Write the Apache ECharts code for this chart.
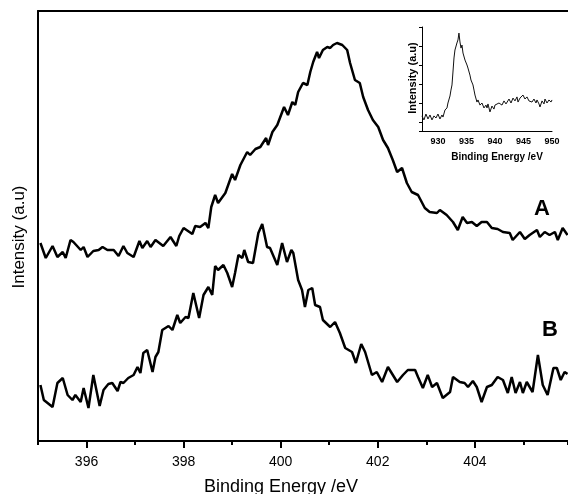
<!DOCTYPE html>
<html><head><meta charset="utf-8">
<script src="https://cdn.jsdelivr.net/npm/echarts@6/dist/echarts.min.js"></script>
<style>html,body{margin:0;padding:0;background:#fff}#c{width:568px;height:494px}</style>
</head><body><div id="c"></div>
<script>
// Main plot: curve A (upper)
const energyA = [395.05,395.16,395.30,395.40,395.51,395.57,395.67,395.73,395.88,395.94,396.02,396.14,396.25,396.33,396.43,396.56,396.66,396.76,396.84,396.97,397.09,397.15,397.25,397.32,397.42,397.58,397.73,397.85,397.91,398.00,398.18,398.24,398.34,398.45,398.51,398.57,398.65,398.71,398.86,399.00,399.06,399.17,399.31,399.37,399.48,399.58,399.70,399.74,399.83,399.93,399.97,400.07,400.15,400.24,400.30,400.36,400.46,400.55,400.61,
400.67,400.75,400.79,400.87,400.96,401.02,401.08,401.16,401.27,401.37,401.43,401.53,401.63,401.70,401.80,401.90,402.01,402.11,402.21,402.31,402.40,402.50,402.60,402.70,402.83,402.97,403.07,403.22,403.28,403.42,403.55,403.65,403.75,403.84,403.94,404.04,404.14,404.25,404.35,404.47,404.58,404.72,404.78,404.93,405.03,405.13,405.28,405.34,405.44,405.54,405.65,405.71,405.81,405.91];
const intensityA = [198,183,195,184,189,183,201,199,191,194,184,190,191,194,191,191,185,195,188,184,200,193,200,194,201,195,204,195,205,213,207,215,214,218,213,234,246,238,248,267,261,276,289,286,292,294,303,296,309,316,314,334,326,339,336,349,358,356,369,
379,389,383,391,394,393,396,398,396,391,378,361,358,344,331,321,314,301,293,281,269,273,258,249,246,233,229,228,231,226,219,211,224,218,219,215,219,219,213,212,209,208,201,209,202,206,211,204,209,206,209,201,213,206];
// Main plot: curve B (lower)
const energyB = [395.05,395.12,395.30,395.40,395.51,395.61,395.71,395.77,395.88,395.94,396.04,396.14,396.27,396.35,396.45,396.53,396.64,396.70,396.76,396.86,396.97,397.05,397.11,397.17,397.25,397.36,397.42,397.48,397.56,397.69,397.77,397.87,397.93,398.04,398.10,398.20,398.32,398.41,398.51,398.59,398.65,398.71,398.82,398.90,399.00,399.06,399.13,399.21,399.25,399.33,399.43,399.54,399.62,399.72,399.78,399.93,400.03,400.13,400.22,400.26,400.36,400.44,400.50,400.57,400.65,400.71,400.81,400.87,401.02,401.12,401.22,401.33,401.47,401.55,401.66,401.74,401.88,401.98,402.09,402.21,402.40,402.52,402.62,402.77,402.83,402.93,403.03,403.12,403.22,403.34,403.49,403.55,403.69,403.79,403.86,403.96,404.04,404.14,404.25,404.35,404.47,404.58,404.68,404.76,404.84,404.93,404.99,405.07,405.19,405.30,405.40,405.50,405.62,405.69,405.77,405.85,405.91];
const intensityB = [56,41,34,58,63,46,41,46,39,53,33,66,35,51,57,58,50,59,58,63,66,74,68,88,91,69,84,89,111,115,111,126,118,124,123,148,123,146,154,146,175,171,176,168,154,168,186,183,191,179,178,208,217,194,193,176,198,179,191,188,161,151,134,151,153,136,134,121,114,119,108,93,89,78,97,89,66,69,59,74,59,66,71,71,64,53,66,54,58,43,49,64,59,58,54,60,54,39,54,56,64,61,48,64,48,59,48,59,49,86,56,46,73,73,61,69,67];
// Inset (Cu 2p region)
const insetEnergy = [927.19,927.54,927.89,928.25,928.60,928.95,929.30,929.65,930.00,930.35,930.70,930.88,931.23,931.58,931.75,932.11,932.28,932.46,932.63,932.81,932.98,933.33,933.51,933.68,933.86,934.04,934.21,934.39,934.56,934.74,935.09,935.26,935.61,935.79,936.14,936.32,936.49,936.84,937.02,937.37,937.72,938.07,938.42,938.60,938.77,939.12,939.47,939.82,940.00,940.35,940.70,940.88,941.23,941.58,941.93,942.11,942.46,942.81,943.16,943.51,943.86,944.04,944.39,944.74,944.91,945.26,945.61,945.96,946.14,946.49,946.84,947.19,947.37,947.72,947.89,948.25,948.60,948.77,949.12,949.47,949.82,950.00];
const insetIntensity = [1.32,1.11,1.42,1.16,1.37,1.11,1.32,1.21,1.42,1.16,1.37,1.26,1.63,1.74,2.00,2.37,2.68,2.95,3.63,4.37,4.79,5.16,5.32,5.68,5.21,4.89,5.05,4.63,4.53,4.26,4.00,3.84,3.47,3.21,2.95,2.68,2.42,2.05,2.16,1.89,2.00,1.74,1.89,1.74,1.95,1.53,1.84,1.68,1.89,1.79,2.00,2.05,1.89,2.11,1.95,2.05,2.21,2.00,2.26,2.11,2.32,2.05,2.26,2.16,2.42,2.21,2.32,2.11,2.21,2.05,2.21,2.00,2.16,1.95,1.79,2.11,1.95,2.21,2.00,2.16,2.05,2.16];
const mainTickLabels = [396,398,400,402,404];
const insetTickLabels = [930,935,940,945,950];
const curveLabels = ['A','B'];

const zip = (xs, ys) => xs.map((x, i) => [x, ys[i]]);
const FONT = '"Liberation Sans", Arial, Helvetica, sans-serif';

const chart = echarts.init(document.getElementById('c'), null, {renderer: 'canvas'});
chart.setOption({
  animation: false,
  backgroundColor: '#fff',
  grid: [
    {left: 38, top: 11, right: 0, bottom: 53},
    {left: 422, top: 27, width: 130, height: 104.5}
  ],
  xAxis: [
    { // main bottom axis, major ticks + labels
      type: 'value', gridIndex: 0, position: 'bottom', min: 395, max: 405.92,
      minInterval: 2, maxInterval: 2, splitNumber: 5,
      axisLine: {show: true, lineStyle: {color: '#000', width: 2}},
      axisTick: {show: true, length: 7, lineStyle: {color: '#000', width: 2}},
      axisLabel: {show: true, color: '#000', fontSize: 14, fontFamily: FONT, margin: 14,
        showMinLabel: false, showMaxLabel: false,
        formatter: v => mainTickLabels.includes(v) ? String(v) : ''},
      splitLine: {show: false}
    },
    { // main bottom axis, minor ticks
      type: 'value', gridIndex: 0, position: 'bottom', min: 395, max: 405.92, interval: 2,
      axisLine: {show: false},
      axisTick: {show: true, length: 4, lineStyle: {color: '#000', width: 2}},
      axisLabel: {show: false}, splitLine: {show: false}
    },
    { // top border
      type: 'value', gridIndex: 0, position: 'top', min: 395, max: 405.92,
      axisLine: {show: true, lineStyle: {color: '#000', width: 2}},
      axisTick: {show: false}, axisLabel: {show: false}, splitLine: {show: false}
    },
    { // inset x
      type: 'value', gridIndex: 1, min: 927.2, max: 950,
      minInterval: 5, maxInterval: 5, splitNumber: 4,
      axisLine: {show: true, lineStyle: {color: '#000', width: 1}},
      axisTick: {show: false},
      axisLabel: {show: true, color: '#000', fontSize: 9, fontWeight: 'bold', fontFamily: FONT, margin: 6,
        showMinLabel: false,
        formatter: v => insetTickLabels.includes(v) ? String(v) : ''},
      splitLine: {show: false}
    }
  ],
  yAxis: [
    {
      type: 'value', gridIndex: 0, min: 0, max: 430,
      axisLine: {show: true, lineStyle: {color: '#000', width: 2}},
      axisTick: {show: false}, axisLabel: {show: false}, splitLine: {show: false}
    },
    {
      type: 'value', gridIndex: 1, min: 0.5, max: 6,
      minInterval: 1, maxInterval: 1, splitNumber: 5,
      axisLine: {show: true, lineStyle: {color: '#000', width: 1}},
      axisTick: {show: true, length: 3, lineStyle: {color: '#000', width: 1}},
      axisLabel: {show: false}, splitLine: {show: false}
    }
  ],
  series: [
    {type: 'line', xAxisIndex: 0, yAxisIndex: 0, data: zip(energyA, intensityA), showSymbol: false,
      lineStyle: {color: '#000', width: 2.5}, z: 3},
    {type: 'line', xAxisIndex: 0, yAxisIndex: 0, data: zip(energyB, intensityB), showSymbol: false,
      lineStyle: {color: '#000', width: 2.5}, z: 3},
    {type: 'line', xAxisIndex: 3, yAxisIndex: 1, data: zip(insetEnergy, insetIntensity), showSymbol: false,
      lineStyle: {color: '#111', width: 1}, z: 3}
  ],
  graphic: [
    {type: 'text', x: 281, y: 487, style: {text: 'Binding Energy /eV', font: '18px ' + FONT, fill: '#000',
      align: 'center', verticalAlign: 'middle', textAlign: 'center', textVerticalAlign: 'middle'}},
    {type: 'text', x: 19, y: 237, rotation: Math.PI / 2, style: {text: 'Intensity (a.u)', font: '17px ' + FONT, fill: '#000',
      align: 'center', verticalAlign: 'middle', textAlign: 'center', textVerticalAlign: 'middle'}},
    {type: 'text', x: 497, y: 157, style: {text: 'Binding Energy /eV', font: 'bold 10px ' + FONT, fill: '#000',
      align: 'center', verticalAlign: 'middle', textAlign: 'center', textVerticalAlign: 'middle'}},
    {type: 'text', x: 413, y: 78, rotation: Math.PI / 2, style: {text: 'Intensity (a.u)', font: 'bold 11px ' + FONT, fill: '#000',
      align: 'center', verticalAlign: 'middle', textAlign: 'center', textVerticalAlign: 'middle'}},
    {type: 'text', x: 542, y: 209, style: {text: curveLabels[0], font: 'bold 22px ' + FONT, fill: '#000',
      align: 'center', verticalAlign: 'middle', textAlign: 'center', textVerticalAlign: 'middle'}},
    {type: 'text', x: 550, y: 330, style: {text: curveLabels[1], font: 'bold 22px ' + FONT, fill: '#000',
      align: 'center', verticalAlign: 'middle', textAlign: 'center', textVerticalAlign: 'middle'}}
  ]
});
</script>
</body></html>
